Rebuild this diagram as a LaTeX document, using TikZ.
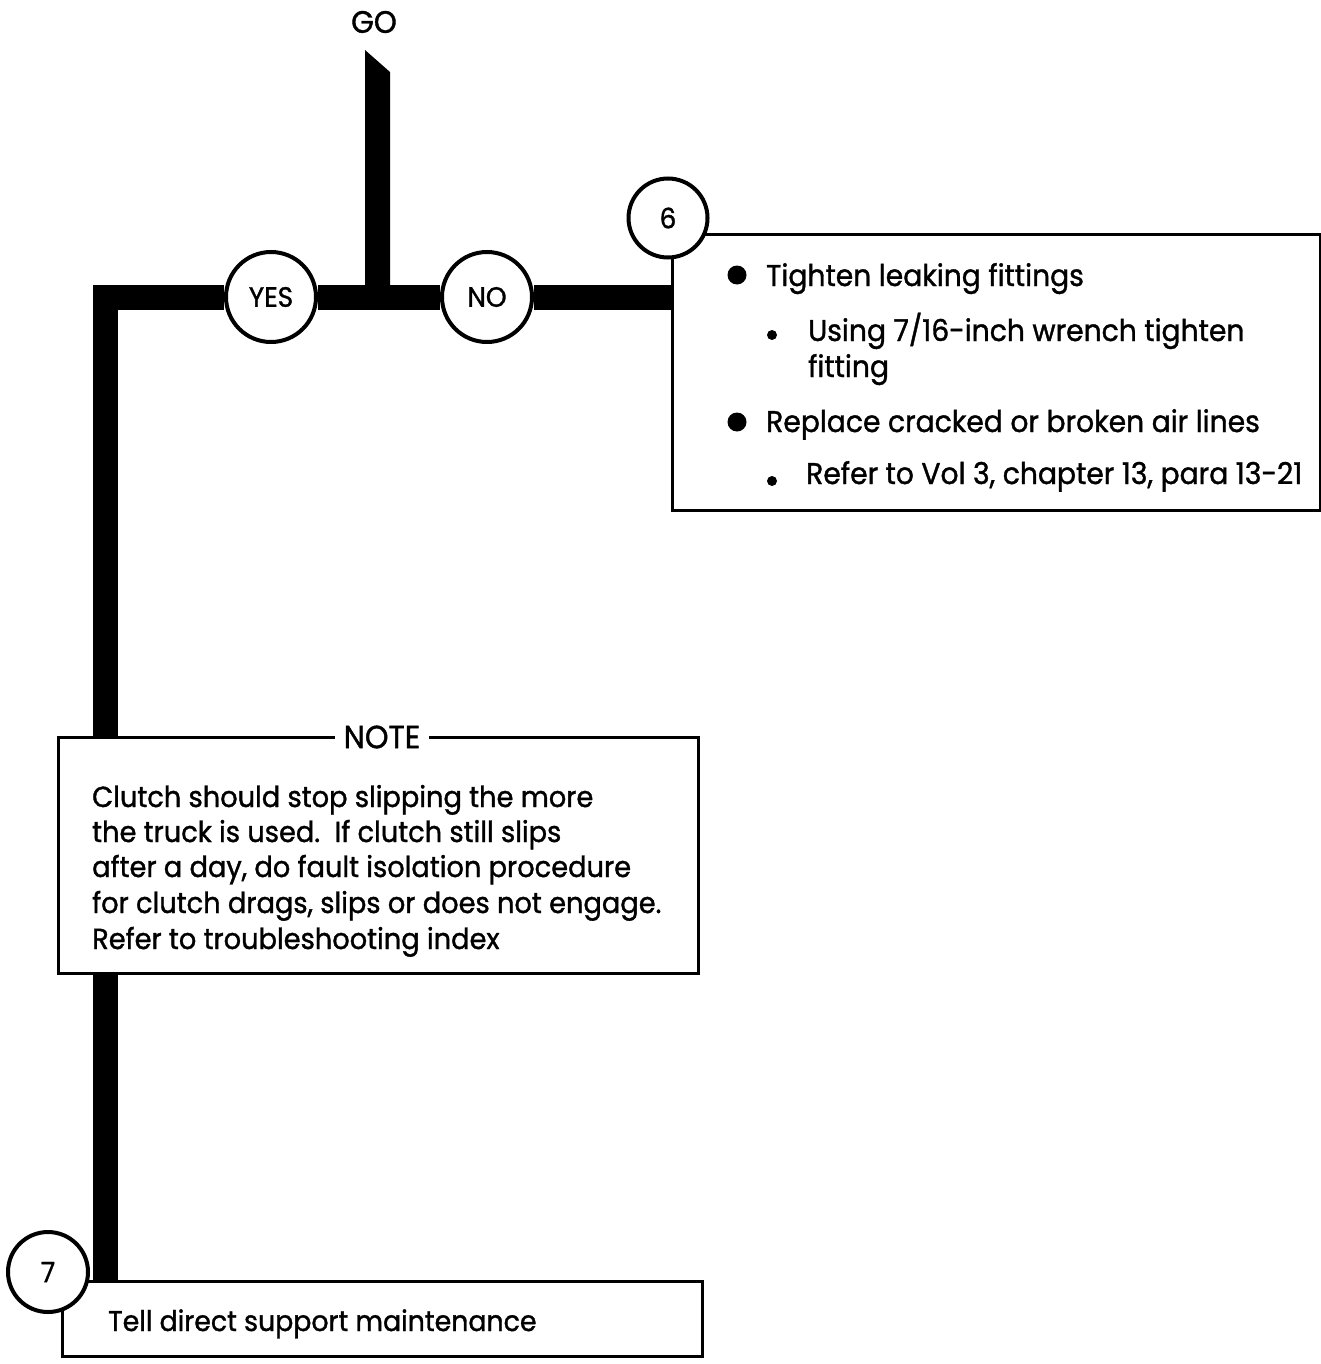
\documentclass[tikz,border=0pt]{standalone}
\usepackage{fontspec}
\setmainfont{Poppins}[FakeStretch=0.94,FakeBold=1.2]
\usetikzlibrary{backgrounds}
\begin{document}
\begin{tikzpicture}[x=1pt,y=-1pt,
  bar/.style={line width=25pt},
  ring/.style={circle,draw,line width=4pt,fill=white,inner sep=0pt,font=\fontsize{28}{28}\selectfont},
  frame/.style={draw,line width=3pt,fill=white,inner sep=0pt},
  txt/.style={anchor=base west,inner sep=0pt,font=\fontsize{30}{34}\selectfont},
  ntxt/.style={txt,font=\fontsize{29}{34}\selectfont},
  bigdot/.style={circle,fill,inner sep=0pt,minimum size=19pt},
  smalldot/.style={circle,fill,inner sep=0pt,minimum size=10pt}]
\useasboundingbox (0,0) rectangle (1321,1364);
% boxes
\node[frame,minimum width=648pt,minimum height=275pt] (box6) at (996,372.5) {};
\node[frame,minimum width=640pt,minimum height=236pt] (note) at (378,855) {};
\node[frame,minimum width=640pt,minimum height=75pt] (box7) at (382,1318.5) {};
% circles
\node[ring,minimum size=90pt] (yes) at (271,297) {YES};
\node[ring,minimum size=90pt] (no) at (487,297) {NO};
\node[ring,minimum size=79pt] (c6) at (668,218) {6};
\node[ring,minimum size=80pt] (c7) at (48,1272) {7};
% GO
\node[inner sep=0pt,font=\fontsize{31}{31}\selectfont] (go) at (374,22) {GO};
\coordinate (gotipL) at (365,50);
\coordinate (gotipR) at (390,72);
\coordinate (j) at (378,297);
\coordinate (corner) at (105,297);
% note label
\node[fill=white,inner xsep=9pt,inner ysep=2pt,font=\fontsize{32}{34}\selectfont] (notelbl) at (382,737) {NOTE};
% box 6 text
\node[bigdot] (d1) at (737,275) {};
\node[txt] (t1) at (766,286) {Tighten leaking fittings};
\node[smalldot] (d2) at (772,335) {};
\node[txt] (t2) at (808,341) {Using 7/16-inch wrench tighten};
\node[txt] (t3) at (808,377) {fitting};
\node[bigdot] (d3) at (737,422) {};
\node[txt] (t4) at (766,432) {Replace cracked or broken air lines};
\node[smalldot] (d4) at (772,481) {};
\node[txt] (t5) at (806,484) {Refer to Vol 3, chapter 13, para 13-21};
% note text
\node[ntxt] (n1) at (92,807) {Clutch should stop slipping the more};
\node[ntxt] (n2) at (92,842) {the truck is used.\ \ If clutch still slips};
\node[ntxt] (n3) at (92,877) {after a day, do fault isolation procedure};
\node[ntxt] (n4) at (92,913) {for clutch drags, slips or does not engage.};
\node[ntxt] (n5) at (92,949) {Refer to troubleshooting index};
% box 7 text
\node[txt,font=\fontsize{28.5}{32}\selectfont] (t7) at (108,1331) {Tell direct support maintenance};
% connectors
\begin{scope}[on background layer]
\fill (gotipL) -- (gotipR) -- (gotipR |- j) -- (gotipL |- j) -- cycle;
\draw[bar] (box6.west |- j) -- (no) -- (j) -- (yes) -- (corner) -- (corner |- box7.north);
\end{scope}
\end{tikzpicture}
\end{document}
